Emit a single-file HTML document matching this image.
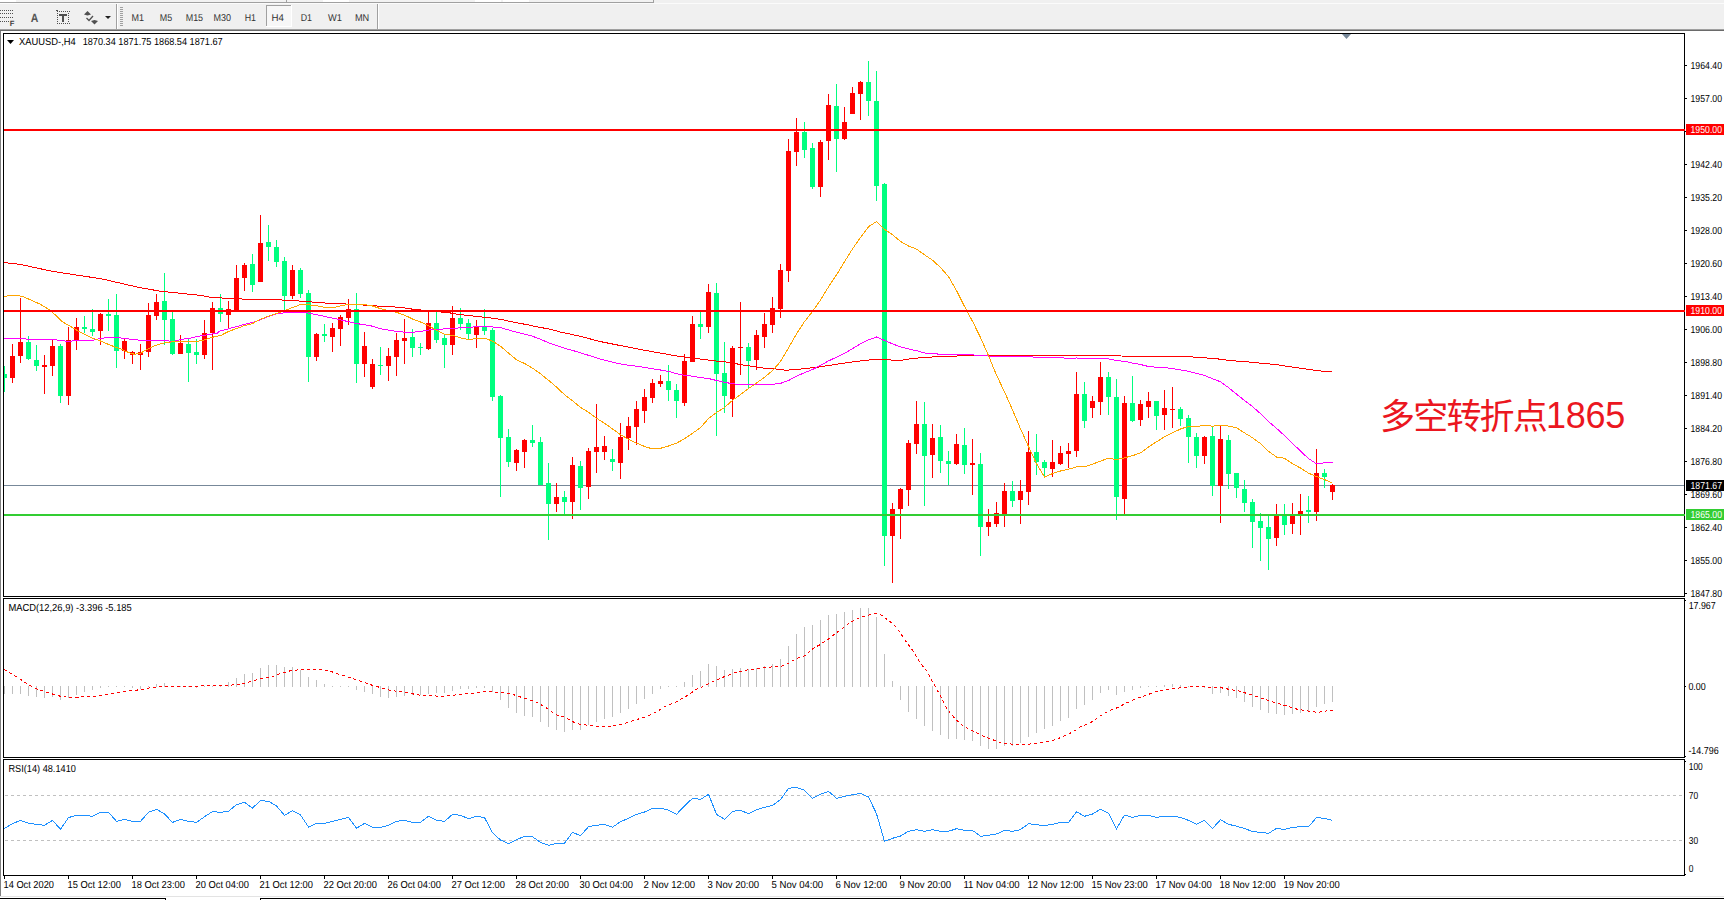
<!DOCTYPE html>
<html><head><meta charset="utf-8"><title>XAUUSD-,H4</title>
<style>
html,body{margin:0;padding:0;background:#fff;}
body{width:1724px;height:900px;overflow:hidden;position:relative;font-family:"Liberation Sans",sans-serif;}
svg{position:absolute;left:0;top:0;}
text{text-rendering:geometricPrecision;}
.t{font-family:"Liberation Sans",sans-serif;font-size:10.2px;fill:#000;}
.tb{font-family:"Liberation Sans",sans-serif;font-size:10px;fill:#333;}
.cn{position:absolute;left:1380px;top:398.7px;font-family:"Liberation Sans","Noto Sans CJK SC",sans-serif;font-size:35px;letter-spacing:-1.8px;color:#eb1620;white-space:nowrap;line-height:1;}
.cn .d{font-size:36px;letter-spacing:-0.3px;position:relative;top:-1.2px;}
</style></head><body>

<svg width="1724" height="900" viewBox="0 0 1724 900">
<g shape-rendering="crispEdges">
<rect x="0" y="0" width="1724" height="29" fill="#f0f0f0"/>
<rect x="0" y="0" width="653" height="2" fill="#f2f2f2"/>
<rect x="0" y="0" width="16" height="2" fill="#ffffff"/>
<rect x="323" y="0" width="26" height="2" fill="#ffffff"/>
<rect x="475" y="0" width="26" height="2" fill="#ffffff"/>
<rect x="503" y="0" width="26" height="2" fill="#ffffff"/>
<rect x="0" y="2" width="654" height="1" fill="#a0a0a0"/>
<rect x="286" y="0" width="1" height="2" fill="#a0a0a0"/>
<rect x="653" y="0" width="1" height="3" fill="#a0a0a0"/>
<rect x="0" y="3" width="1724" height="1" fill="#fbfbfb"/>
<rect x="116" y="4" width="1" height="25" fill="#a0a0a0"/><rect x="117" y="4" width="1" height="25" fill="#ffffff"/>
<rect x="377" y="4" width="1" height="25" fill="#a0a0a0"/><rect x="378" y="4" width="1" height="25" fill="#ffffff"/>
<rect x="120" y="7" width="3" height="1" fill="#a0a0a0"/>
<rect x="120" y="9" width="3" height="1" fill="#a0a0a0"/>
<rect x="120" y="11" width="3" height="1" fill="#a0a0a0"/>
<rect x="120" y="13" width="3" height="1" fill="#a0a0a0"/>
<rect x="120" y="15" width="3" height="1" fill="#a0a0a0"/>
<rect x="120" y="17" width="3" height="1" fill="#a0a0a0"/>
<rect x="120" y="19" width="3" height="1" fill="#a0a0a0"/>
<rect x="120" y="21" width="3" height="1" fill="#a0a0a0"/>
<rect x="120" y="23" width="3" height="1" fill="#a0a0a0"/>
<rect x="120" y="25" width="3" height="1" fill="#a0a0a0"/>
<rect x="266" y="5" width="25" height="22" fill="#f7f7f7"/>
<rect x="266" y="5" width="25" height="1" fill="#a0a0a0"/><rect x="266" y="5" width="1" height="22" fill="#a0a0a0"/>
<rect x="266" y="26" width="26" height="1" fill="#ffffff"/><rect x="291" y="5" width="1" height="22" fill="#ffffff"/>
<rect x="0" y="29" width="1724" height="1" fill="#a0a0a0"/>
<rect x="0" y="30" width="1724" height="1" fill="#6a6a6a"/>
</g>
<g shape-rendering="crispEdges"><rect x="0" y="10" width="1" height="1" fill="#505050"/><rect x="2" y="10" width="1" height="1" fill="#505050"/><rect x="4" y="10" width="1" height="1" fill="#505050"/><rect x="6" y="10" width="1" height="1" fill="#505050"/><rect x="8" y="10" width="1" height="1" fill="#505050"/><rect x="10" y="10" width="1" height="1" fill="#505050"/><rect x="12" y="10" width="1" height="1" fill="#505050"/><rect x="0" y="13" width="1" height="1" fill="#505050"/><rect x="2" y="13" width="1" height="1" fill="#505050"/><rect x="4" y="13" width="1" height="1" fill="#505050"/><rect x="6" y="13" width="1" height="1" fill="#505050"/><rect x="8" y="13" width="1" height="1" fill="#505050"/><rect x="10" y="13" width="1" height="1" fill="#505050"/><rect x="12" y="13" width="1" height="1" fill="#505050"/><rect x="0" y="17" width="1" height="1" fill="#505050"/><rect x="2" y="17" width="1" height="1" fill="#505050"/><rect x="4" y="17" width="1" height="1" fill="#505050"/><rect x="6" y="17" width="1" height="1" fill="#505050"/><rect x="8" y="17" width="1" height="1" fill="#505050"/><rect x="10" y="17" width="1" height="1" fill="#505050"/><rect x="12" y="17" width="1" height="1" fill="#505050"/><rect x="0" y="21" width="1" height="1" fill="#505050"/><rect x="2" y="21" width="1" height="1" fill="#505050"/><rect x="4" y="21" width="1" height="1" fill="#505050"/><rect x="6" y="21" width="1" height="1" fill="#505050"/><rect x="8" y="21" width="1" height="1" fill="#505050"/></g>
<text x="9.8" y="26.2" font-family="Liberation Sans, sans-serif" font-size="7.6px" font-weight="bold" fill="#404040">F</text>
<text x="30.8" y="22" font-family="Liberation Sans, sans-serif" font-size="12px" font-weight="bold" fill="#555" textLength="7.6" lengthAdjust="spacingAndGlyphs">A</text>
<g shape-rendering="crispEdges"><rect x="57" y="11" width="1" height="1" fill="#505050"/><rect x="57" y="23" width="1" height="1" fill="#505050"/><rect x="59" y="11" width="1" height="1" fill="#505050"/><rect x="59" y="23" width="1" height="1" fill="#505050"/><rect x="61" y="11" width="1" height="1" fill="#505050"/><rect x="61" y="23" width="1" height="1" fill="#505050"/><rect x="63" y="11" width="1" height="1" fill="#505050"/><rect x="63" y="23" width="1" height="1" fill="#505050"/><rect x="65" y="11" width="1" height="1" fill="#505050"/><rect x="65" y="23" width="1" height="1" fill="#505050"/><rect x="67" y="11" width="1" height="1" fill="#505050"/><rect x="67" y="23" width="1" height="1" fill="#505050"/><rect x="69" y="11" width="1" height="1" fill="#505050"/><rect x="69" y="23" width="1" height="1" fill="#505050"/><rect x="57" y="13" width="1" height="1" fill="#505050"/><rect x="68" y="13" width="1" height="1" fill="#505050"/><rect x="57" y="15" width="1" height="1" fill="#505050"/><rect x="68" y="15" width="1" height="1" fill="#505050"/><rect x="57" y="17" width="1" height="1" fill="#505050"/><rect x="68" y="17" width="1" height="1" fill="#505050"/><rect x="57" y="19" width="1" height="1" fill="#505050"/><rect x="68" y="19" width="1" height="1" fill="#505050"/><rect x="57" y="21" width="1" height="1" fill="#505050"/><rect x="68" y="21" width="1" height="1" fill="#505050"/><rect x="56" y="10" width="2" height="1" fill="#505050"/><rect x="59" y="14" width="8" height="2" fill="#505050"/><rect x="62" y="14" width="2" height="8" fill="#505050"/></g>
<path d="M84 14.5 L87.5 11 L91 14.5 L87.5 15.5 Z" fill="#505050"/>
<path d="M91 21 L94.5 24.5 L98 21 L94.5 20 Z" fill="#505050"/>
<path d="M86.5 18 L89 20.5 L93 16" fill="none" stroke="#505050" stroke-width="1.3"/>
<path d="M105 16 L111 16 L108 19 Z" fill="#202020"/>
<text class="tb" x="131.5" y="21" textLength="12.5" lengthAdjust="spacingAndGlyphs">M1</text>
<text class="tb" x="159.8" y="21" textLength="12.4" lengthAdjust="spacingAndGlyphs">M5</text>
<text class="tb" x="185.7" y="21" textLength="17.4" lengthAdjust="spacingAndGlyphs">M15</text>
<text class="tb" x="213.6" y="21" textLength="17.5" lengthAdjust="spacingAndGlyphs">M30</text>
<text class="tb" x="244.7" y="21" textLength="11.3" lengthAdjust="spacingAndGlyphs">H1</text>
<text class="tb" x="271.5" y="21" textLength="12.4" lengthAdjust="spacingAndGlyphs">H4</text>
<text class="tb" x="300.7" y="21" textLength="11.3" lengthAdjust="spacingAndGlyphs">D1</text>
<text class="tb" x="328.1" y="21" textLength="13.9" lengthAdjust="spacingAndGlyphs">W1</text>
<text class="tb" x="354.9" y="21" textLength="14.3" lengthAdjust="spacingAndGlyphs">MN</text>
<g shape-rendering="crispEdges">
<rect x="0" y="31" width="1" height="865" fill="#808080"/>
<rect x="3" y="33" width="1682" height="1" fill="#000"/>
<rect x="3" y="596" width="1682" height="1" fill="#000"/>
<rect x="3" y="33" width="1" height="564" fill="#000"/>
<rect x="1684" y="33" width="1" height="564" fill="#000"/>
<rect x="3" y="598" width="1682" height="1" fill="#000"/>
<rect x="3" y="757" width="1682" height="1" fill="#000"/>
<rect x="3" y="598" width="1" height="160" fill="#000"/>
<rect x="1684" y="598" width="1" height="160" fill="#000"/>
<rect x="3" y="759" width="1682" height="1" fill="#000"/>
<rect x="3" y="875" width="1682" height="1" fill="#000"/>
<rect x="3" y="759" width="1" height="117" fill="#000"/>
<rect x="1684" y="759" width="1" height="117" fill="#000"/>
<rect x="0" y="896" width="1724" height="1" fill="#e3e3e3"/>
<rect x="0" y="898" width="166" height="1" fill="#000"/>
<rect x="260" y="898" width="1464" height="1" fill="#000"/>
<rect x="165" y="898" width="1" height="2" fill="#000"/><rect x="260" y="898" width="1" height="2" fill="#000"/>
</g>
<rect x="4" y="485" width="1680" height="1" fill="#778899" shape-rendering="crispEdges"/>
<g shape-rendering="crispEdges"><rect x="4" y="366" width="1" height="26" fill="#00ff7f"/><rect x="4" y="374" width="3" height="4" fill="#00ff7f"/><rect x="12" y="344" width="1" height="39" fill="#ff0000"/><rect x="10" y="356" width="5" height="22" fill="#ff0000"/><rect x="20" y="298" width="1" height="65" fill="#ff0000"/><rect x="18" y="342" width="5" height="14" fill="#ff0000"/><rect x="28" y="336" width="1" height="24" fill="#00ff7f"/><rect x="26" y="342" width="5" height="17" fill="#00ff7f"/><rect x="36" y="345" width="1" height="26" fill="#00ff7f"/><rect x="34" y="360" width="5" height="6" fill="#00ff7f"/><rect x="44" y="355" width="1" height="39" fill="#ff0000"/><rect x="42" y="365" width="5" height="2" fill="#ff0000"/><rect x="52" y="340" width="1" height="36" fill="#ff0000"/><rect x="50" y="346" width="5" height="20" fill="#ff0000"/><rect x="60" y="344" width="1" height="59" fill="#00ff7f"/><rect x="58" y="346" width="5" height="50" fill="#00ff7f"/><rect x="68" y="327" width="1" height="78" fill="#ff0000"/><rect x="66" y="340" width="5" height="56" fill="#ff0000"/><rect x="76" y="318" width="1" height="32" fill="#ff0000"/><rect x="74" y="327" width="5" height="13" fill="#ff0000"/><rect x="84" y="316" width="1" height="17" fill="#00ff7f"/><rect x="82" y="327" width="5" height="2" fill="#00ff7f"/><rect x="92" y="309" width="1" height="27" fill="#00ff7f"/><rect x="90" y="329" width="5" height="3" fill="#00ff7f"/><rect x="100" y="313" width="1" height="32" fill="#ff0000"/><rect x="98" y="314" width="5" height="17" fill="#ff0000"/><rect x="108" y="299" width="1" height="32" fill="#00ff7f"/><rect x="106" y="314" width="5" height="2" fill="#00ff7f"/><rect x="116" y="294" width="1" height="74" fill="#00ff7f"/><rect x="114" y="315" width="5" height="36" fill="#00ff7f"/><rect x="124" y="338" width="1" height="21" fill="#ff0000"/><rect x="122" y="341" width="5" height="10" fill="#ff0000"/><rect x="132" y="351" width="1" height="13" fill="#ff0000"/><rect x="130" y="352" width="5" height="3" fill="#ff0000"/><rect x="140" y="344" width="1" height="26" fill="#ff0000"/><rect x="138" y="352" width="5" height="3" fill="#ff0000"/><rect x="148" y="303" width="1" height="54" fill="#ff0000"/><rect x="146" y="315" width="5" height="37" fill="#ff0000"/><rect x="156" y="294" width="1" height="26" fill="#ff0000"/><rect x="154" y="302" width="5" height="14" fill="#ff0000"/><rect x="164" y="273" width="1" height="72" fill="#00ff7f"/><rect x="162" y="301" width="5" height="19" fill="#00ff7f"/><rect x="172" y="312" width="1" height="43" fill="#00ff7f"/><rect x="170" y="319" width="5" height="35" fill="#00ff7f"/><rect x="180" y="335" width="1" height="19" fill="#ff0000"/><rect x="178" y="343" width="5" height="11" fill="#ff0000"/><rect x="188" y="339" width="1" height="43" fill="#00ff7f"/><rect x="186" y="344" width="5" height="9" fill="#00ff7f"/><rect x="196" y="339" width="1" height="25" fill="#00ff7f"/><rect x="194" y="352" width="5" height="3" fill="#00ff7f"/><rect x="204" y="320" width="1" height="39" fill="#ff0000"/><rect x="202" y="333" width="5" height="22" fill="#ff0000"/><rect x="212" y="302" width="1" height="68" fill="#ff0000"/><rect x="210" y="308" width="5" height="25" fill="#ff0000"/><rect x="220" y="294" width="1" height="28" fill="#00ff7f"/><rect x="218" y="308" width="5" height="6" fill="#00ff7f"/><rect x="228" y="301" width="1" height="27" fill="#ff0000"/><rect x="226" y="309" width="5" height="6" fill="#ff0000"/><rect x="236" y="265" width="1" height="47" fill="#ff0000"/><rect x="234" y="278" width="5" height="34" fill="#ff0000"/><rect x="244" y="263" width="1" height="28" fill="#ff0000"/><rect x="242" y="265" width="5" height="13" fill="#ff0000"/><rect x="252" y="254" width="1" height="38" fill="#00ff7f"/><rect x="250" y="264" width="5" height="21" fill="#00ff7f"/><rect x="260" y="215" width="1" height="67" fill="#ff0000"/><rect x="258" y="243" width="5" height="39" fill="#ff0000"/><rect x="268" y="225" width="1" height="36" fill="#00ff7f"/><rect x="266" y="242" width="5" height="5" fill="#00ff7f"/><rect x="276" y="240" width="1" height="27" fill="#00ff7f"/><rect x="274" y="247" width="5" height="15" fill="#00ff7f"/><rect x="284" y="257" width="1" height="53" fill="#00ff7f"/><rect x="282" y="261" width="5" height="35" fill="#00ff7f"/><rect x="292" y="265" width="1" height="34" fill="#ff0000"/><rect x="290" y="270" width="5" height="26" fill="#ff0000"/><rect x="300" y="268" width="1" height="30" fill="#00ff7f"/><rect x="298" y="270" width="5" height="24" fill="#00ff7f"/><rect x="308" y="290" width="1" height="92" fill="#00ff7f"/><rect x="306" y="293" width="5" height="64" fill="#00ff7f"/><rect x="316" y="333" width="1" height="28" fill="#ff0000"/><rect x="314" y="334" width="5" height="23" fill="#ff0000"/><rect x="324" y="324" width="1" height="18" fill="#00ff7f"/><rect x="322" y="334" width="5" height="2" fill="#00ff7f"/><rect x="332" y="323" width="1" height="29" fill="#ff0000"/><rect x="330" y="328" width="5" height="9" fill="#ff0000"/><rect x="340" y="315" width="1" height="31" fill="#ff0000"/><rect x="338" y="317" width="5" height="12" fill="#ff0000"/><rect x="348" y="299" width="1" height="26" fill="#ff0000"/><rect x="346" y="309" width="5" height="9" fill="#ff0000"/><rect x="356" y="293" width="1" height="90" fill="#00ff7f"/><rect x="354" y="309" width="5" height="55" fill="#00ff7f"/><rect x="364" y="332" width="1" height="45" fill="#ff0000"/><rect x="362" y="346" width="5" height="18" fill="#ff0000"/><rect x="372" y="359" width="1" height="30" fill="#ff0000"/><rect x="370" y="364" width="5" height="23" fill="#ff0000"/><rect x="380" y="347" width="1" height="28" fill="#00ff7f"/><rect x="378" y="365" width="5" height="1" fill="#00ff7f"/><rect x="388" y="348" width="1" height="33" fill="#ff0000"/><rect x="386" y="356" width="5" height="10" fill="#ff0000"/><rect x="396" y="333" width="1" height="43" fill="#ff0000"/><rect x="394" y="340" width="5" height="17" fill="#ff0000"/><rect x="404" y="319" width="1" height="45" fill="#ff0000"/><rect x="402" y="338" width="5" height="3" fill="#ff0000"/><rect x="412" y="329" width="1" height="28" fill="#00ff7f"/><rect x="410" y="337" width="5" height="11" fill="#00ff7f"/><rect x="420" y="343" width="1" height="12" fill="#00ff7f"/><rect x="418" y="347" width="5" height="1" fill="#00ff7f"/><rect x="428" y="312" width="1" height="38" fill="#ff0000"/><rect x="426" y="323" width="5" height="26" fill="#ff0000"/><rect x="436" y="312" width="1" height="31" fill="#00ff7f"/><rect x="434" y="323" width="5" height="17" fill="#00ff7f"/><rect x="444" y="335" width="1" height="33" fill="#00ff7f"/><rect x="442" y="338" width="5" height="7" fill="#00ff7f"/><rect x="452" y="306" width="1" height="49" fill="#ff0000"/><rect x="450" y="318" width="5" height="27" fill="#ff0000"/><rect x="460" y="308" width="1" height="22" fill="#00ff7f"/><rect x="458" y="318" width="5" height="6" fill="#00ff7f"/><rect x="468" y="319" width="1" height="21" fill="#00ff7f"/><rect x="466" y="323" width="5" height="11" fill="#00ff7f"/><rect x="476" y="320" width="1" height="28" fill="#ff0000"/><rect x="474" y="327" width="5" height="8" fill="#ff0000"/><rect x="484" y="309" width="1" height="26" fill="#00ff7f"/><rect x="482" y="327" width="5" height="4" fill="#00ff7f"/><rect x="492" y="328" width="1" height="73" fill="#00ff7f"/><rect x="490" y="330" width="5" height="67" fill="#00ff7f"/><rect x="500" y="395" width="1" height="102" fill="#00ff7f"/><rect x="498" y="396" width="5" height="42" fill="#00ff7f"/><rect x="508" y="429" width="1" height="38" fill="#00ff7f"/><rect x="506" y="437" width="5" height="25" fill="#00ff7f"/><rect x="516" y="449" width="1" height="22" fill="#ff0000"/><rect x="514" y="450" width="5" height="13" fill="#ff0000"/><rect x="524" y="439" width="1" height="29" fill="#ff0000"/><rect x="522" y="440" width="5" height="12" fill="#ff0000"/><rect x="532" y="425" width="1" height="22" fill="#00ff7f"/><rect x="530" y="440" width="5" height="3" fill="#00ff7f"/><rect x="540" y="437" width="1" height="48" fill="#00ff7f"/><rect x="538" y="442" width="5" height="43" fill="#00ff7f"/><rect x="548" y="463" width="1" height="77" fill="#00ff7f"/><rect x="546" y="483" width="5" height="21" fill="#00ff7f"/><rect x="556" y="483" width="1" height="29" fill="#ff0000"/><rect x="554" y="497" width="5" height="7" fill="#ff0000"/><rect x="564" y="491" width="1" height="23" fill="#00ff7f"/><rect x="562" y="497" width="5" height="5" fill="#00ff7f"/><rect x="572" y="457" width="1" height="62" fill="#ff0000"/><rect x="570" y="465" width="5" height="37" fill="#ff0000"/><rect x="580" y="461" width="1" height="49" fill="#00ff7f"/><rect x="578" y="466" width="5" height="22" fill="#00ff7f"/><rect x="588" y="448" width="1" height="51" fill="#ff0000"/><rect x="586" y="451" width="5" height="36" fill="#ff0000"/><rect x="596" y="404" width="1" height="69" fill="#ff0000"/><rect x="594" y="447" width="5" height="5" fill="#ff0000"/><rect x="604" y="436" width="1" height="24" fill="#ff0000"/><rect x="602" y="446" width="5" height="6" fill="#ff0000"/><rect x="612" y="449" width="1" height="22" fill="#00ff7f"/><rect x="610" y="459" width="5" height="3" fill="#00ff7f"/><rect x="620" y="423" width="1" height="56" fill="#ff0000"/><rect x="618" y="437" width="5" height="26" fill="#ff0000"/><rect x="628" y="417" width="1" height="33" fill="#ff0000"/><rect x="626" y="426" width="5" height="12" fill="#ff0000"/><rect x="636" y="401" width="1" height="44" fill="#ff0000"/><rect x="634" y="409" width="5" height="18" fill="#ff0000"/><rect x="644" y="389" width="1" height="34" fill="#ff0000"/><rect x="642" y="397" width="5" height="14" fill="#ff0000"/><rect x="652" y="379" width="1" height="24" fill="#ff0000"/><rect x="650" y="383" width="5" height="15" fill="#ff0000"/><rect x="660" y="375" width="1" height="12" fill="#ff0000"/><rect x="658" y="381" width="5" height="3" fill="#ff0000"/><rect x="668" y="365" width="1" height="36" fill="#00ff7f"/><rect x="666" y="381" width="5" height="9" fill="#00ff7f"/><rect x="676" y="384" width="1" height="34" fill="#00ff7f"/><rect x="674" y="390" width="5" height="11" fill="#00ff7f"/><rect x="684" y="354" width="1" height="52" fill="#ff0000"/><rect x="682" y="361" width="5" height="42" fill="#ff0000"/><rect x="692" y="316" width="1" height="46" fill="#ff0000"/><rect x="690" y="324" width="5" height="38" fill="#ff0000"/><rect x="700" y="312" width="1" height="27" fill="#00ff7f"/><rect x="698" y="324" width="5" height="3" fill="#00ff7f"/><rect x="708" y="284" width="1" height="49" fill="#ff0000"/><rect x="706" y="292" width="5" height="35" fill="#ff0000"/><rect x="716" y="283" width="1" height="153" fill="#00ff7f"/><rect x="714" y="293" width="5" height="81" fill="#00ff7f"/><rect x="724" y="342" width="1" height="71" fill="#00ff7f"/><rect x="722" y="373" width="5" height="23" fill="#00ff7f"/><rect x="732" y="346" width="1" height="71" fill="#ff0000"/><rect x="730" y="348" width="5" height="51" fill="#ff0000"/><rect x="740" y="302" width="1" height="73" fill="#ff0000"/><rect x="738" y="347" width="5" height="1" fill="#ff0000"/><rect x="748" y="343" width="1" height="45" fill="#00ff7f"/><rect x="746" y="347" width="5" height="14" fill="#00ff7f"/><rect x="756" y="330" width="1" height="40" fill="#ff0000"/><rect x="754" y="335" width="5" height="25" fill="#ff0000"/><rect x="764" y="313" width="1" height="35" fill="#ff0000"/><rect x="762" y="324" width="5" height="13" fill="#ff0000"/><rect x="772" y="297" width="1" height="36" fill="#ff0000"/><rect x="770" y="308" width="5" height="17" fill="#ff0000"/><rect x="780" y="264" width="1" height="54" fill="#ff0000"/><rect x="778" y="270" width="5" height="39" fill="#ff0000"/><rect x="788" y="139" width="1" height="143" fill="#ff0000"/><rect x="786" y="151" width="5" height="120" fill="#ff0000"/><rect x="796" y="118" width="1" height="48" fill="#ff0000"/><rect x="794" y="132" width="5" height="20" fill="#ff0000"/><rect x="804" y="122" width="1" height="36" fill="#00ff7f"/><rect x="802" y="132" width="5" height="18" fill="#00ff7f"/><rect x="812" y="143" width="1" height="46" fill="#00ff7f"/><rect x="810" y="148" width="5" height="39" fill="#00ff7f"/><rect x="820" y="140" width="1" height="57" fill="#ff0000"/><rect x="818" y="142" width="5" height="45" fill="#ff0000"/><rect x="828" y="94" width="1" height="66" fill="#ff0000"/><rect x="826" y="105" width="5" height="36" fill="#ff0000"/><rect x="836" y="84" width="1" height="88" fill="#00ff7f"/><rect x="834" y="106" width="5" height="33" fill="#00ff7f"/><rect x="844" y="107" width="1" height="33" fill="#ff0000"/><rect x="842" y="122" width="5" height="17" fill="#ff0000"/><rect x="852" y="87" width="1" height="27" fill="#ff0000"/><rect x="850" y="93" width="5" height="21" fill="#ff0000"/><rect x="860" y="81" width="1" height="39" fill="#ff0000"/><rect x="858" y="82" width="5" height="12" fill="#ff0000"/><rect x="868" y="61" width="1" height="55" fill="#00ff7f"/><rect x="866" y="82" width="5" height="19" fill="#00ff7f"/><rect x="876" y="71" width="1" height="130" fill="#00ff7f"/><rect x="874" y="101" width="5" height="85" fill="#00ff7f"/><rect x="884" y="183" width="1" height="383" fill="#00ff7f"/><rect x="882" y="184" width="5" height="352" fill="#00ff7f"/><rect x="892" y="503" width="1" height="80" fill="#ff0000"/><rect x="890" y="509" width="5" height="27" fill="#ff0000"/><rect x="900" y="488" width="1" height="51" fill="#ff0000"/><rect x="898" y="489" width="5" height="20" fill="#ff0000"/><rect x="908" y="440" width="1" height="66" fill="#ff0000"/><rect x="906" y="443" width="5" height="47" fill="#ff0000"/><rect x="916" y="401" width="1" height="53" fill="#ff0000"/><rect x="914" y="424" width="5" height="20" fill="#ff0000"/><rect x="924" y="402" width="1" height="104" fill="#00ff7f"/><rect x="922" y="424" width="5" height="32" fill="#00ff7f"/><rect x="932" y="424" width="1" height="54" fill="#ff0000"/><rect x="930" y="438" width="5" height="17" fill="#ff0000"/><rect x="940" y="425" width="1" height="48" fill="#00ff7f"/><rect x="938" y="437" width="5" height="24" fill="#00ff7f"/><rect x="948" y="451" width="1" height="34" fill="#00ff7f"/><rect x="946" y="461" width="5" height="3" fill="#00ff7f"/><rect x="956" y="434" width="1" height="31" fill="#ff0000"/><rect x="954" y="444" width="5" height="20" fill="#ff0000"/><rect x="964" y="428" width="1" height="46" fill="#00ff7f"/><rect x="962" y="445" width="5" height="20" fill="#00ff7f"/><rect x="972" y="439" width="1" height="56" fill="#ff0000"/><rect x="970" y="463" width="5" height="2" fill="#ff0000"/><rect x="980" y="453" width="1" height="103" fill="#00ff7f"/><rect x="978" y="464" width="5" height="63" fill="#00ff7f"/><rect x="988" y="509" width="1" height="27" fill="#ff0000"/><rect x="986" y="522" width="5" height="5" fill="#ff0000"/><rect x="996" y="502" width="1" height="25" fill="#ff0000"/><rect x="994" y="513" width="5" height="11" fill="#ff0000"/><rect x="1004" y="483" width="1" height="44" fill="#ff0000"/><rect x="1002" y="491" width="5" height="23" fill="#ff0000"/><rect x="1012" y="481" width="1" height="26" fill="#00ff7f"/><rect x="1010" y="491" width="5" height="10" fill="#00ff7f"/><rect x="1020" y="480" width="1" height="44" fill="#ff0000"/><rect x="1018" y="491" width="5" height="9" fill="#ff0000"/><rect x="1028" y="431" width="1" height="74" fill="#ff0000"/><rect x="1026" y="452" width="5" height="40" fill="#ff0000"/><rect x="1036" y="434" width="1" height="41" fill="#00ff7f"/><rect x="1034" y="452" width="5" height="10" fill="#00ff7f"/><rect x="1044" y="460" width="1" height="17" fill="#00ff7f"/><rect x="1042" y="462" width="5" height="6" fill="#00ff7f"/><rect x="1052" y="440" width="1" height="37" fill="#ff0000"/><rect x="1050" y="462" width="5" height="7" fill="#ff0000"/><rect x="1060" y="446" width="1" height="19" fill="#ff0000"/><rect x="1058" y="453" width="5" height="11" fill="#ff0000"/><rect x="1068" y="443" width="1" height="25" fill="#ff0000"/><rect x="1066" y="451" width="5" height="3" fill="#ff0000"/><rect x="1076" y="372" width="1" height="85" fill="#ff0000"/><rect x="1074" y="394" width="5" height="57" fill="#ff0000"/><rect x="1084" y="382" width="1" height="46" fill="#00ff7f"/><rect x="1082" y="394" width="5" height="27" fill="#00ff7f"/><rect x="1092" y="396" width="1" height="22" fill="#ff0000"/><rect x="1090" y="401" width="5" height="7" fill="#ff0000"/><rect x="1100" y="362" width="1" height="53" fill="#ff0000"/><rect x="1098" y="377" width="5" height="25" fill="#ff0000"/><rect x="1108" y="372" width="1" height="43" fill="#00ff7f"/><rect x="1106" y="377" width="5" height="20" fill="#00ff7f"/><rect x="1116" y="379" width="1" height="141" fill="#00ff7f"/><rect x="1114" y="397" width="5" height="100" fill="#00ff7f"/><rect x="1124" y="396" width="1" height="118" fill="#ff0000"/><rect x="1122" y="403" width="5" height="96" fill="#ff0000"/><rect x="1132" y="376" width="1" height="46" fill="#00ff7f"/><rect x="1130" y="403" width="5" height="18" fill="#00ff7f"/><rect x="1140" y="400" width="1" height="26" fill="#ff0000"/><rect x="1138" y="404" width="5" height="16" fill="#ff0000"/><rect x="1148" y="392" width="1" height="26" fill="#ff0000"/><rect x="1146" y="401" width="5" height="6" fill="#ff0000"/><rect x="1156" y="401" width="1" height="29" fill="#00ff7f"/><rect x="1154" y="401" width="5" height="15" fill="#00ff7f"/><rect x="1164" y="390" width="1" height="40" fill="#ff0000"/><rect x="1162" y="408" width="5" height="7" fill="#ff0000"/><rect x="1172" y="387" width="1" height="41" fill="#ff0000"/><rect x="1170" y="409" width="5" height="1" fill="#ff0000"/><rect x="1180" y="407" width="1" height="19" fill="#00ff7f"/><rect x="1178" y="409" width="5" height="10" fill="#00ff7f"/><rect x="1188" y="415" width="1" height="48" fill="#00ff7f"/><rect x="1186" y="418" width="5" height="19" fill="#00ff7f"/><rect x="1196" y="433" width="1" height="35" fill="#00ff7f"/><rect x="1194" y="437" width="5" height="19" fill="#00ff7f"/><rect x="1204" y="436" width="1" height="28" fill="#ff0000"/><rect x="1202" y="437" width="5" height="19" fill="#ff0000"/><rect x="1212" y="427" width="1" height="69" fill="#00ff7f"/><rect x="1210" y="436" width="5" height="50" fill="#00ff7f"/><rect x="1220" y="426" width="1" height="97" fill="#ff0000"/><rect x="1218" y="439" width="5" height="47" fill="#ff0000"/><rect x="1228" y="435" width="1" height="54" fill="#00ff7f"/><rect x="1226" y="440" width="5" height="34" fill="#00ff7f"/><rect x="1236" y="473" width="1" height="25" fill="#00ff7f"/><rect x="1234" y="473" width="5" height="15" fill="#00ff7f"/><rect x="1244" y="480" width="1" height="32" fill="#00ff7f"/><rect x="1242" y="489" width="5" height="14" fill="#00ff7f"/><rect x="1252" y="499" width="1" height="49" fill="#00ff7f"/><rect x="1250" y="502" width="5" height="20" fill="#00ff7f"/><rect x="1260" y="513" width="1" height="48" fill="#00ff7f"/><rect x="1258" y="521" width="5" height="7" fill="#00ff7f"/><rect x="1268" y="516" width="1" height="54" fill="#00ff7f"/><rect x="1266" y="527" width="5" height="12" fill="#00ff7f"/><rect x="1276" y="504" width="1" height="42" fill="#ff0000"/><rect x="1274" y="516" width="5" height="22" fill="#ff0000"/><rect x="1284" y="504" width="1" height="31" fill="#00ff7f"/><rect x="1282" y="516" width="5" height="9" fill="#00ff7f"/><rect x="1292" y="503" width="1" height="31" fill="#ff0000"/><rect x="1290" y="516" width="5" height="8" fill="#ff0000"/><rect x="1300" y="494" width="1" height="41" fill="#ff0000"/><rect x="1298" y="511" width="5" height="3" fill="#ff0000"/><rect x="1308" y="496" width="1" height="27" fill="#00ff7f"/><rect x="1306" y="510" width="5" height="2" fill="#00ff7f"/><rect x="1316" y="449" width="1" height="72" fill="#ff0000"/><rect x="1314" y="473" width="5" height="39" fill="#ff0000"/><rect x="1324" y="469" width="1" height="19" fill="#00ff7f"/><rect x="1322" y="473" width="5" height="4" fill="#00ff7f"/><rect x="1332" y="484" width="1" height="16" fill="#ff0000"/><rect x="1330" y="485" width="5" height="7" fill="#ff0000"/></g>
<g shape-rendering="crispEdges">
<polyline points="4.0,262.6 20.5,264.4 50.5,271.0 80.5,275.7 100.5,278.6 120.5,283.2 140.5,287.8 160.5,291.2 180.5,293.3 200.5,295.4 210.5,297.3 225.5,298.2 250.5,299.4 280.5,299.9 300.5,301.1 315.5,302.3 330.5,303.4 345.5,304.0 360.5,304.8 380.5,306.3 400.5,307.3 410.5,308.9 430.5,311.0 450.5,313.0 460.5,314.7 470.5,315.7 480.5,316.8 490.5,318.0 500.5,319.3 510.5,321.5 520.5,323.4 530.5,325.4 540.5,327.5 550.5,329.2 560.5,332.1 570.5,334.1 580.5,336.4 600.5,341.6 620.5,345.6 640.5,349.5 660.5,353.1 680.5,356.7 690.5,357.7 700.5,359.1 720.5,361.5 730.5,362.4 740.5,364.7 755.5,366.7 760.5,367.8 775.5,369.0 785.5,370.2 790.5,369.9 800.5,369.1 820.5,366.8 840.5,363.6 860.5,360.9 875.5,359.4 890.5,360.0 900.5,360.4 910.5,358.7 925.5,357.3 940.5,356.6 960.5,355.9 980.5,355.4 1025.5,355.6 1035.5,355.2 1112.5,355.2 1120.5,356.0 1160.5,356.3 1185.5,356.5 1200.5,357.5 1215.5,358.6 1230.5,360.6 1245.5,361.7 1260.5,363.2 1275.5,364.5 1290.5,366.8 1305.5,369.0 1320.5,371.0 1332.5,371.5" fill="none" stroke="#ff0000" stroke-width="1" />
<polyline points="4.0,338.5 25.5,338.5 26.5,339.5 56.5,339.5 57.5,340.5 64.5,340.5 65.5,341.5 71.5,341.5 72.5,340.5 93.5,340.5 94.5,339.5 97.5,339.5 98.5,338.5 103.5,338.5 104.5,337.5 120.5,337.5 121.5,338.5 128.5,338.5 129.5,339.5 137.5,339.5 138.5,340.5 168.5,340.5 169.5,341.5 174.5,341.5 175.5,340.5 178.5,340.5 179.5,339.5 183.5,339.5 184.5,338.5 190.5,338.5 191.5,337.5 194.5,337.5 195.5,336.5 199.5,336.5 200.5,335.5 205.5,335.5 206.5,334.5 211.5,334.5 212.5,333.5 217.5,333.5 218.5,331.5 240.5,325.5 254.5,322.0 267.5,316.8 276.5,313.7 288.5,312.4 304.5,312.4 313.5,314.1 325.5,316.6 335.5,318.7 345.5,321.0 355.5,323.4 370.5,325.7 380.5,328.8 390.5,330.5 400.5,331.9 410.5,332.4 420.5,331.5 430.5,329.8 436.5,329.5 444.5,328.9 452.5,328.2 460.5,327.9 468.5,327.4 476.5,326.7 484.5,326.1 492.5,327.0 500.5,327.7 508.5,329.9 516.5,332.2 524.5,334.2 532.5,336.2 540.5,339.3 548.5,342.7 556.5,345.4 564.5,348.3 572.5,350.4 580.5,352.8 588.5,355.3 596.5,357.9 604.5,360.2 612.5,362.2 620.5,363.9 628.5,365.2 636.5,366.2 644.5,367.4 652.5,368.8 660.5,370.0 668.5,371.4 676.5,373.7 684.5,375.4 692.5,376.1 700.5,377.6 708.5,378.5 716.5,380.5 724.5,382.3 732.5,383.7 740.5,384.7 748.5,384.8 756.5,384.8 764.5,384.6 772.5,384.3 780.5,383.4 788.5,380.5 796.5,376.3 804.5,372.7 812.5,369.5 820.5,365.4 828.5,360.9 836.5,357.2 844.5,353.3 852.5,348.6 860.5,343.8 868.5,339.8 876.5,337.0 884.5,340.4 892.5,343.9 900.5,346.9 908.5,348.9 916.5,350.7 924.5,353.0 932.5,353.7 940.5,354.2 948.5,354.2 956.5,354.1 964.5,354.5 972.5,354.9 980.5,355.7 988.5,356.0 996.5,356.3 1004.5,356.1 1012.5,356.8 1020.5,356.8 1028.5,356.9 1036.5,357.1 1044.5,357.5 1052.5,357.5 1060.5,357.8 1068.5,358.3 1076.5,358.0 1084.5,358.4 1092.5,358.8 1100.5,358.7 1108.5,358.8 1116.5,360.6 1124.5,361.3 1132.5,363.1 1140.5,364.5 1148.5,366.5 1156.5,367.2 1164.5,367.5 1172.5,368.6 1180.5,369.9 1188.5,371.3 1196.5,373.4 1204.5,375.5 1212.5,378.7 1220.5,381.8 1228.5,387.6 1236.5,394.1 1244.5,400.5 1252.5,406.6 1260.5,413.6 1268.5,421.5 1276.5,428.3 1284.5,435.6 1292.5,443.3 1300.5,451.1 1308.5,458.6 1316.5,463.8 1324.5,462.8 1332.5,462.3" fill="none" stroke="#ff00ff" stroke-width="1" />
<polyline points="4.0,296.5 12.5,295.2 16.5,295.2 22.5,296.5 30.5,299.8 40.5,304.4 48.5,309.2 55.5,315.0 62.5,321.8 70.5,326.5 80.5,332.3 90.5,337.4 100.5,341.0 110.5,345.3 120.5,348.9 128.5,352.5 134.5,354.3 140.5,353.3 146.5,349.6 155.5,345.3 164.5,342.9 172.5,341.8 180.5,341.2 188.5,341.6 196.5,341.4 204.5,339.9 212.5,337.2 220.5,335.6 228.5,331.5 236.5,328.5 244.5,325.6 252.5,323.5 260.5,319.3 268.5,316.1 276.5,313.5 284.5,310.9 292.5,307.5 300.5,304.6 308.5,304.8 316.5,305.7 324.5,307.2 332.5,307.7 340.5,305.9 348.5,304.3 356.5,304.9 364.5,304.5 372.5,306.0 380.5,308.7 388.5,310.8 396.5,312.3 404.5,315.1 412.5,319.0 420.5,322.0 428.5,325.8 436.5,330.2 444.5,334.2 452.5,335.3 460.5,337.8 468.5,339.7 476.5,338.4 484.5,338.2 492.5,341.1 500.5,346.2 508.5,353.1 516.5,359.8 524.5,363.5 532.5,368.1 540.5,373.8 548.5,380.3 556.5,387.0 564.5,394.7 572.5,400.7 580.5,407.4 588.5,412.3 596.5,418.2 604.5,423.3 612.5,428.9 620.5,434.6 628.5,439.5 636.5,443.1 644.5,446.4 652.5,449.0 660.5,448.3 668.5,446.0 676.5,443.1 684.5,438.8 692.5,433.3 700.5,427.7 708.5,418.6 716.5,412.4 724.5,407.5 732.5,400.3 740.5,394.6 748.5,388.6 756.5,383.1 764.5,377.2 772.5,370.6 780.5,361.5 788.5,347.9 796.5,333.9 804.5,321.6 812.5,311.5 820.5,300.0 828.5,286.9 836.5,274.9 844.5,261.7 852.5,248.9 860.5,237.4 868.5,226.7 876.5,221.6 884.5,229.3 892.5,234.7 900.5,241.4 908.5,246.0 916.5,249.1 924.5,254.8 932.5,260.2 940.5,267.5 948.5,276.6 956.5,290.6 964.5,306.4 972.5,321.3 980.5,337.5 988.5,355.7 996.5,375.1 1004.5,391.9 1012.5,409.9 1020.5,428.8 1028.5,446.5 1036.5,463.7 1044.5,477.1 1052.5,473.6 1060.5,471.0 1068.5,469.2 1076.5,466.9 1084.5,466.7 1092.5,464.1 1100.5,461.2 1108.5,458.1 1116.5,459.7 1124.5,457.8 1132.5,455.7 1140.5,452.9 1148.5,446.9 1156.5,441.8 1164.5,436.8 1172.5,432.9 1180.5,429.0 1188.5,426.4 1196.5,426.5 1204.5,425.3 1212.5,426.2 1220.5,425.1 1228.5,426.1 1236.5,427.7 1244.5,432.9 1252.5,437.7 1260.5,443.6 1268.5,451.3 1276.5,457.0 1284.5,458.3 1292.5,463.7 1300.5,468.0 1308.5,473.1 1316.5,476.6 1324.5,479.5 1332.5,483.1" fill="none" stroke="#ffa500" stroke-width="1" />
</g>
<g shape-rendering="crispEdges">
<rect x="4" y="129" width="1681" height="2" fill="#ff0000"/>
<rect x="4" y="310" width="1681" height="2" fill="#ff0000"/>
<rect x="4" y="514" width="1681" height="2" fill="#32cd32"/>
</g>
<path d="M1342 34 L1351 34 L1346.5 39 Z" fill="#778899"/>
<g shape-rendering="crispEdges"><rect x="1685" y="65" width="2" height="1" fill="#000"/><rect x="1685" y="98" width="2" height="1" fill="#000"/><rect x="1685" y="164" width="2" height="1" fill="#000"/><rect x="1685" y="197" width="2" height="1" fill="#000"/><rect x="1685" y="230" width="2" height="1" fill="#000"/><rect x="1685" y="263" width="2" height="1" fill="#000"/><rect x="1685" y="296" width="2" height="1" fill="#000"/><rect x="1685" y="329" width="2" height="1" fill="#000"/><rect x="1685" y="362" width="2" height="1" fill="#000"/><rect x="1685" y="395" width="2" height="1" fill="#000"/><rect x="1685" y="428" width="2" height="1" fill="#000"/><rect x="1685" y="461" width="2" height="1" fill="#000"/><rect x="1685" y="494" width="2" height="1" fill="#000"/><rect x="1685" y="527" width="2" height="1" fill="#000"/><rect x="1685" y="560" width="2" height="1" fill="#000"/><rect x="1685" y="593" width="2" height="1" fill="#000"/><rect x="1685" y="131" width="2" height="1" fill="#000"/></g>
<text class="t" x="1690.5" y="69.0" textLength="31.5" lengthAdjust="spacingAndGlyphs">1964.40</text>
<text class="t" x="1690.5" y="102.0" textLength="31.5" lengthAdjust="spacingAndGlyphs">1957.00</text>
<text class="t" x="1690.5" y="168.0" textLength="31.5" lengthAdjust="spacingAndGlyphs">1942.40</text>
<text class="t" x="1690.5" y="201.0" textLength="31.5" lengthAdjust="spacingAndGlyphs">1935.20</text>
<text class="t" x="1690.5" y="234.0" textLength="31.5" lengthAdjust="spacingAndGlyphs">1928.00</text>
<text class="t" x="1690.5" y="267.0" textLength="31.5" lengthAdjust="spacingAndGlyphs">1920.60</text>
<text class="t" x="1690.5" y="300.0" textLength="31.5" lengthAdjust="spacingAndGlyphs">1913.40</text>
<text class="t" x="1690.5" y="333.0" textLength="31.5" lengthAdjust="spacingAndGlyphs">1906.00</text>
<text class="t" x="1690.5" y="366.0" textLength="31.5" lengthAdjust="spacingAndGlyphs">1898.80</text>
<text class="t" x="1690.5" y="399.0" textLength="31.5" lengthAdjust="spacingAndGlyphs">1891.40</text>
<text class="t" x="1690.5" y="432.0" textLength="31.5" lengthAdjust="spacingAndGlyphs">1884.20</text>
<text class="t" x="1690.5" y="465.0" textLength="31.5" lengthAdjust="spacingAndGlyphs">1876.80</text>
<text class="t" x="1690.5" y="498.0" textLength="31.5" lengthAdjust="spacingAndGlyphs">1869.60</text>
<text class="t" x="1690.5" y="531.0" textLength="31.5" lengthAdjust="spacingAndGlyphs">1862.40</text>
<text class="t" x="1690.5" y="564.0" textLength="31.5" lengthAdjust="spacingAndGlyphs">1855.00</text>
<text class="t" x="1690.5" y="597.0" textLength="31.5" lengthAdjust="spacingAndGlyphs">1847.80</text>
<rect x="1686" y="124" width="38" height="11" fill="#ff0000" shape-rendering="crispEdges"/>
<text class="t" x="1690.5" y="133.0" textLength="31.5" lengthAdjust="spacingAndGlyphs" style="fill:#fff">1950.00</text>
<rect x="1686" y="305" width="38" height="11" fill="#ff0000" shape-rendering="crispEdges"/>
<text class="t" x="1690.5" y="314.0" textLength="31.5" lengthAdjust="spacingAndGlyphs" style="fill:#fff">1910.00</text>
<rect x="1686" y="480" width="38" height="11" fill="#000000" shape-rendering="crispEdges"/>
<text class="t" x="1690.5" y="489.0" textLength="31.5" lengthAdjust="spacingAndGlyphs" style="fill:#fff">1871.67</text>
<rect x="1686" y="509" width="38" height="11" fill="#32cd32" shape-rendering="crispEdges"/>
<text class="t" x="1690.5" y="518.0" textLength="31.5" lengthAdjust="spacingAndGlyphs" style="fill:#fff">1865.00</text>
<path d="M7 40 L14 40 L10.5 44 Z" fill="#000"/>
<text class="t" x="19" y="45" textLength="56.7" lengthAdjust="spacingAndGlyphs">XAUUSD-,H4</text>
<text class="t" x="82.7" y="45" textLength="140" lengthAdjust="spacingAndGlyphs">1870.34 1871.75 1868.54 1871.67</text>
<g shape-rendering="crispEdges"><rect x="4" y="686" width="1" height="8" fill="#c0c0c0"/><rect x="12" y="686" width="1" height="8" fill="#c0c0c0"/><rect x="20" y="686" width="1" height="8" fill="#c0c0c0"/><rect x="28" y="686" width="1" height="10" fill="#c0c0c0"/><rect x="36" y="686" width="1" height="11" fill="#c0c0c0"/><rect x="44" y="686" width="1" height="12" fill="#c0c0c0"/><rect x="52" y="686" width="1" height="11" fill="#c0c0c0"/><rect x="60" y="686" width="1" height="14" fill="#c0c0c0"/><rect x="68" y="686" width="1" height="12" fill="#c0c0c0"/><rect x="76" y="686" width="1" height="9" fill="#c0c0c0"/><rect x="84" y="686" width="1" height="6" fill="#c0c0c0"/><rect x="92" y="686" width="1" height="4" fill="#c0c0c0"/><rect x="100" y="686" width="1" height="2" fill="#c0c0c0"/><rect x="108" y="686" width="1" height="1" fill="#c0c0c0"/><rect x="116" y="686" width="1" height="1" fill="#c0c0c0"/><rect x="124" y="686" width="1" height="1" fill="#c0c0c0"/><rect x="132" y="686" width="1" height="2" fill="#c0c0c0"/><rect x="140" y="686" width="1" height="3" fill="#c0c0c0"/><rect x="148" y="686" width="1" height="1" fill="#c0c0c0"/><rect x="156" y="684" width="1" height="3" fill="#c0c0c0"/><rect x="164" y="683" width="1" height="4" fill="#c0c0c0"/><rect x="172" y="686" width="1" height="1" fill="#c0c0c0"/><rect x="180" y="686" width="1" height="1" fill="#c0c0c0"/><rect x="188" y="686" width="1" height="1" fill="#c0c0c0"/><rect x="196" y="686" width="1" height="2" fill="#c0c0c0"/><rect x="204" y="686" width="1" height="1" fill="#c0c0c0"/><rect x="212" y="686" width="1" height="1" fill="#c0c0c0"/><rect x="220" y="685" width="1" height="2" fill="#c0c0c0"/><rect x="228" y="682" width="1" height="5" fill="#c0c0c0"/><rect x="236" y="678" width="1" height="9" fill="#c0c0c0"/><rect x="244" y="674" width="1" height="13" fill="#c0c0c0"/><rect x="252" y="673" width="1" height="14" fill="#c0c0c0"/><rect x="260" y="668" width="1" height="19" fill="#c0c0c0"/><rect x="268" y="665" width="1" height="22" fill="#c0c0c0"/><rect x="276" y="665" width="1" height="22" fill="#c0c0c0"/><rect x="284" y="667" width="1" height="20" fill="#c0c0c0"/><rect x="292" y="667" width="1" height="20" fill="#c0c0c0"/><rect x="300" y="670" width="1" height="17" fill="#c0c0c0"/><rect x="308" y="677" width="1" height="10" fill="#c0c0c0"/><rect x="316" y="680" width="1" height="7" fill="#c0c0c0"/><rect x="324" y="684" width="1" height="3" fill="#c0c0c0"/><rect x="332" y="686" width="1" height="1" fill="#c0c0c0"/><rect x="340" y="686" width="1" height="1" fill="#c0c0c0"/><rect x="348" y="686" width="1" height="1" fill="#c0c0c0"/><rect x="356" y="686" width="1" height="4" fill="#c0c0c0"/><rect x="364" y="686" width="1" height="6" fill="#c0c0c0"/><rect x="372" y="686" width="1" height="8" fill="#c0c0c0"/><rect x="380" y="686" width="1" height="11" fill="#c0c0c0"/><rect x="388" y="686" width="1" height="12" fill="#c0c0c0"/><rect x="396" y="686" width="1" height="11" fill="#c0c0c0"/><rect x="404" y="686" width="1" height="10" fill="#c0c0c0"/><rect x="412" y="686" width="1" height="9" fill="#c0c0c0"/><rect x="420" y="686" width="1" height="9" fill="#c0c0c0"/><rect x="428" y="686" width="1" height="8" fill="#c0c0c0"/><rect x="436" y="686" width="1" height="7" fill="#c0c0c0"/><rect x="444" y="686" width="1" height="7" fill="#c0c0c0"/><rect x="452" y="686" width="1" height="5" fill="#c0c0c0"/><rect x="460" y="686" width="1" height="3" fill="#c0c0c0"/><rect x="468" y="686" width="1" height="3" fill="#c0c0c0"/><rect x="476" y="686" width="1" height="2" fill="#c0c0c0"/><rect x="484" y="686" width="1" height="2" fill="#c0c0c0"/><rect x="492" y="686" width="1" height="6" fill="#c0c0c0"/><rect x="500" y="686" width="1" height="14" fill="#c0c0c0"/><rect x="508" y="686" width="1" height="22" fill="#c0c0c0"/><rect x="516" y="686" width="1" height="27" fill="#c0c0c0"/><rect x="524" y="686" width="1" height="30" fill="#c0c0c0"/><rect x="532" y="686" width="1" height="31" fill="#c0c0c0"/><rect x="540" y="686" width="1" height="36" fill="#c0c0c0"/><rect x="548" y="686" width="1" height="41" fill="#c0c0c0"/><rect x="556" y="686" width="1" height="44" fill="#c0c0c0"/><rect x="564" y="686" width="1" height="46" fill="#c0c0c0"/><rect x="572" y="686" width="1" height="44" fill="#c0c0c0"/><rect x="580" y="686" width="1" height="44" fill="#c0c0c0"/><rect x="588" y="686" width="1" height="39" fill="#c0c0c0"/><rect x="596" y="686" width="1" height="36" fill="#c0c0c0"/><rect x="604" y="686" width="1" height="33" fill="#c0c0c0"/><rect x="612" y="686" width="1" height="31" fill="#c0c0c0"/><rect x="620" y="686" width="1" height="27" fill="#c0c0c0"/><rect x="628" y="686" width="1" height="23" fill="#c0c0c0"/><rect x="636" y="686" width="1" height="18" fill="#c0c0c0"/><rect x="644" y="686" width="1" height="13" fill="#c0c0c0"/><rect x="652" y="686" width="1" height="8" fill="#c0c0c0"/><rect x="660" y="686" width="1" height="3" fill="#c0c0c0"/><rect x="668" y="686" width="1" height="1" fill="#c0c0c0"/><rect x="676" y="686" width="1" height="1" fill="#c0c0c0"/><rect x="684" y="682" width="1" height="5" fill="#c0c0c0"/><rect x="692" y="675" width="1" height="12" fill="#c0c0c0"/><rect x="700" y="671" width="1" height="16" fill="#c0c0c0"/><rect x="708" y="664" width="1" height="23" fill="#c0c0c0"/><rect x="716" y="666" width="1" height="21" fill="#c0c0c0"/><rect x="724" y="670" width="1" height="17" fill="#c0c0c0"/><rect x="732" y="669" width="1" height="18" fill="#c0c0c0"/><rect x="740" y="668" width="1" height="19" fill="#c0c0c0"/><rect x="748" y="669" width="1" height="18" fill="#c0c0c0"/><rect x="756" y="668" width="1" height="19" fill="#c0c0c0"/><rect x="764" y="666" width="1" height="21" fill="#c0c0c0"/><rect x="772" y="664" width="1" height="23" fill="#c0c0c0"/><rect x="780" y="659" width="1" height="28" fill="#c0c0c0"/><rect x="788" y="646" width="1" height="41" fill="#c0c0c0"/><rect x="796" y="634" width="1" height="53" fill="#c0c0c0"/><rect x="804" y="627" width="1" height="60" fill="#c0c0c0"/><rect x="812" y="625" width="1" height="62" fill="#c0c0c0"/><rect x="820" y="620" width="1" height="67" fill="#c0c0c0"/><rect x="828" y="615" width="1" height="72" fill="#c0c0c0"/><rect x="836" y="614" width="1" height="73" fill="#c0c0c0"/><rect x="844" y="612" width="1" height="75" fill="#c0c0c0"/><rect x="852" y="610" width="1" height="77" fill="#c0c0c0"/><rect x="860" y="608" width="1" height="79" fill="#c0c0c0"/><rect x="868" y="608" width="1" height="79" fill="#c0c0c0"/><rect x="876" y="617" width="1" height="70" fill="#c0c0c0"/><rect x="884" y="654" width="1" height="33" fill="#c0c0c0"/><rect x="892" y="681" width="1" height="6" fill="#c0c0c0"/><rect x="900" y="686" width="1" height="14" fill="#c0c0c0"/><rect x="908" y="686" width="1" height="26" fill="#c0c0c0"/><rect x="916" y="686" width="1" height="33" fill="#c0c0c0"/><rect x="924" y="686" width="1" height="40" fill="#c0c0c0"/><rect x="932" y="686" width="1" height="45" fill="#c0c0c0"/><rect x="940" y="686" width="1" height="49" fill="#c0c0c0"/><rect x="948" y="686" width="1" height="53" fill="#c0c0c0"/><rect x="956" y="686" width="1" height="53" fill="#c0c0c0"/><rect x="964" y="686" width="1" height="54" fill="#c0c0c0"/><rect x="972" y="686" width="1" height="55" fill="#c0c0c0"/><rect x="980" y="686" width="1" height="60" fill="#c0c0c0"/><rect x="988" y="686" width="1" height="63" fill="#c0c0c0"/><rect x="996" y="686" width="1" height="63" fill="#c0c0c0"/><rect x="1004" y="686" width="1" height="60" fill="#c0c0c0"/><rect x="1012" y="686" width="1" height="60" fill="#c0c0c0"/><rect x="1020" y="686" width="1" height="57" fill="#c0c0c0"/><rect x="1028" y="686" width="1" height="51" fill="#c0c0c0"/><rect x="1036" y="686" width="1" height="47" fill="#c0c0c0"/><rect x="1044" y="686" width="1" height="43" fill="#c0c0c0"/><rect x="1052" y="686" width="1" height="40" fill="#c0c0c0"/><rect x="1060" y="686" width="1" height="35" fill="#c0c0c0"/><rect x="1068" y="686" width="1" height="32" fill="#c0c0c0"/><rect x="1076" y="686" width="1" height="23" fill="#c0c0c0"/><rect x="1084" y="686" width="1" height="19" fill="#c0c0c0"/><rect x="1092" y="686" width="1" height="14" fill="#c0c0c0"/><rect x="1100" y="686" width="1" height="7" fill="#c0c0c0"/><rect x="1108" y="686" width="1" height="4" fill="#c0c0c0"/><rect x="1116" y="686" width="1" height="9" fill="#c0c0c0"/><rect x="1124" y="686" width="1" height="6" fill="#c0c0c0"/><rect x="1132" y="686" width="1" height="4" fill="#c0c0c0"/><rect x="1140" y="686" width="1" height="2" fill="#c0c0c0"/><rect x="1148" y="686" width="1" height="1" fill="#c0c0c0"/><rect x="1156" y="686" width="1" height="1" fill="#c0c0c0"/><rect x="1164" y="685" width="1" height="2" fill="#c0c0c0"/><rect x="1172" y="684" width="1" height="3" fill="#c0c0c0"/><rect x="1180" y="685" width="1" height="2" fill="#c0c0c0"/><rect x="1188" y="686" width="1" height="1" fill="#c0c0c0"/><rect x="1196" y="686" width="1" height="1" fill="#c0c0c0"/><rect x="1204" y="686" width="1" height="2" fill="#c0c0c0"/><rect x="1212" y="686" width="1" height="8" fill="#c0c0c0"/><rect x="1220" y="686" width="1" height="7" fill="#c0c0c0"/><rect x="1228" y="686" width="1" height="10" fill="#c0c0c0"/><rect x="1236" y="686" width="1" height="12" fill="#c0c0c0"/><rect x="1244" y="686" width="1" height="16" fill="#c0c0c0"/><rect x="1252" y="686" width="1" height="21" fill="#c0c0c0"/><rect x="1260" y="686" width="1" height="24" fill="#c0c0c0"/><rect x="1268" y="686" width="1" height="27" fill="#c0c0c0"/><rect x="1276" y="686" width="1" height="28" fill="#c0c0c0"/><rect x="1284" y="686" width="1" height="29" fill="#c0c0c0"/><rect x="1292" y="686" width="1" height="28" fill="#c0c0c0"/><rect x="1300" y="686" width="1" height="27" fill="#c0c0c0"/><rect x="1308" y="686" width="1" height="25" fill="#c0c0c0"/><rect x="1316" y="686" width="1" height="21" fill="#c0c0c0"/><rect x="1324" y="686" width="1" height="18" fill="#c0c0c0"/><rect x="1332" y="686" width="1" height="16" fill="#c0c0c0"/></g>
<polyline points="4.0,669.6 12.5,674.2 20.5,679.4 28.5,684.7 36.5,688.7 44.5,691.6 52.5,694.0 60.5,696.3 68.5,697.4 76.5,697.4 84.5,696.6 92.5,696.5 100.5,695.5 108.5,694.5 116.5,692.8 124.5,691.3 132.5,690.5 140.5,689.7 148.5,688.1 156.5,687.3 164.5,686.4 190.5,686.4 210.5,685.5 230.5,685.2 240.5,684.1 250.5,681.5 260.5,678.9 270.5,677.1 280.5,673.6 290.5,670.7 300.5,669.6 310.5,669.4 320.5,669.7 330.5,671.3 340.5,674.8 350.5,677.7 360.5,681.2 370.5,684.7 380.5,687.6 390.5,690.4 400.5,691.8 410.5,693.5 420.5,695.2 430.5,695.5 440.5,696.4 450.5,695.5 460.5,694.4 470.5,693.5 480.5,692.3 485.5,691.4 490.5,691.4 497.5,692.3 505.5,693.2 513.5,694.7 520.5,697.0 528.5,699.5 535.5,701.6 545.5,707.4 555.5,714.4 565.5,717.6 575.5,723.1 580.5,724.4 590.5,725.5 595.5,726.4 610.5,726.4 617.5,725.3 625.5,723.3 635.5,719.8 645.5,717.1 655.5,712.5 665.5,706.1 675.5,702.1 685.5,696.6 695.5,689.9 705.5,685.2 715.5,680.4 725.5,676.2 735.5,672.5 745.5,670.2 755.5,669.0 765.5,667.6 775.5,666.5 780.5,666.4 786.5,664.4 795.5,658.9 805.5,655.6 812.5,648.9 820.5,644.4 828.5,638.9 835.5,633.3 843.5,627.8 850.5,622.2 858.5,618.3 866.5,615.6 874.5,613.6 880.5,614.4 886.5,618.9 894.5,625.0 900.5,633.3 906.5,642.2 912.5,650.0 918.5,660.0 922.5,665.8 927.5,671.6 930.5,678.0 934.5,685.0 940.5,696.0 945.5,706.4 950.5,713.4 956.5,720.3 963.5,726.1 970.5,729.6 978.5,733.7 985.5,737.1 993.5,740.0 1000.5,742.4 1008.5,743.8 1016.5,744.5 1024.5,744.5 1032.5,743.8 1040.5,742.6 1048.5,741.2 1056.5,739.5 1064.5,735.6 1072.5,732.2 1080.5,726.7 1090.5,722.6 1100.5,715.7 1108.5,711.0 1115.5,708.5 1125.5,703.5 1135.5,698.9 1145.5,695.4 1155.5,691.9 1165.5,689.6 1175.5,688.4 1185.5,687.3 1195.5,686.5 1205.5,686.5 1210.5,687.6 1220.5,687.6 1230.5,689.6 1240.5,691.3 1243.5,692.4 1250.5,694.5 1256.5,696.4 1262.5,698.4 1268.5,700.4 1275.5,702.7 1281.5,704.4 1287.5,706.2 1293.5,708.4 1300.5,709.8 1306.5,710.8 1311.5,711.6 1317.5,712.4 1323.5,711.4 1329.5,710.5 1332.5,710.2" fill="none" stroke="#ff0000" stroke-width="1" stroke-dasharray="3 3" shape-rendering="crispEdges"/>
<g shape-rendering="crispEdges"><rect x="1685" y="600" width="1" height="1" fill="#000"/><rect x="1685" y="686" width="1" height="1" fill="#000"/><rect x="1685" y="756" width="1" height="1" fill="#000"/></g>
<text class="t" x="1688.7" y="609" textLength="27" lengthAdjust="spacingAndGlyphs">17.967</text>
<text class="t" x="1688.4" y="689.6" textLength="17.4" lengthAdjust="spacingAndGlyphs">0.00</text>
<text class="t" x="1688.4" y="753.6" textLength="30.3" lengthAdjust="spacingAndGlyphs">-14.796</text>
<text class="t" x="8.4" y="610.8" textLength="123.4" lengthAdjust="spacingAndGlyphs">MACD(12,26,9) -3.396 -5.185</text>
<g shape-rendering="crispEdges">
<line x1="4" y1="795.5" x2="1684" y2="795.5" stroke="#c0c0c0" stroke-width="1" stroke-dasharray="3 3" stroke-dashoffset="-1"/>
<line x1="4" y1="840.5" x2="1684" y2="840.5" stroke="#c0c0c0" stroke-width="1" stroke-dasharray="3 3" stroke-dashoffset="-1"/>
<rect x="1685" y="761" width="1" height="1" fill="#000"/><rect x="1685" y="874" width="1" height="1" fill="#000"/>
</g>
<polyline points="4.0,828.7 12.5,823.7 20.5,820.3 28.5,823.3 36.5,824.4 44.5,825.3 52.5,820.3 60.5,829.3 68.5,817.6 76.5,815.3 84.5,815.3 92.5,816.3 100.5,812.3 108.5,812.3 116.5,821.3 124.5,819.3 132.5,821.3 140.5,821.3 148.5,812.3 156.5,809.3 164.5,814.0 172.5,822.4 180.5,819.3 188.5,821.3 196.5,822.4 204.5,816.7 212.5,811.6 220.5,812.3 228.5,811.2 236.5,804.7 244.5,802.4 252.5,808.0 260.5,800.7 268.5,801.3 276.5,806.0 284.5,815.3 292.5,810.7 300.5,815.0 308.5,827.0 316.5,823.3 324.5,823.3 332.5,821.3 340.5,819.3 348.5,817.3 356.5,828.3 364.5,823.3 372.5,827.3 380.5,827.3 388.5,825.3 396.5,821.3 404.5,820.3 412.5,822.4 420.5,822.4 428.5,816.3 436.5,820.3 444.5,821.4 452.5,814.4 460.5,815.3 468.5,818.7 476.5,816.3 484.5,817.6 492.5,832.7 500.5,840.0 508.5,843.7 516.5,839.7 524.5,836.3 532.5,836.7 540.5,842.4 548.5,845.3 556.5,843.3 564.5,843.3 572.5,832.3 580.5,835.7 588.5,826.7 596.5,825.3 604.5,824.3 612.5,827.3 620.5,821.6 628.5,818.4 636.5,814.4 644.5,812.0 652.5,808.3 660.5,808.2 668.5,810.2 676.5,814.3 684.5,806.0 692.5,798.3 700.5,799.4 708.5,794.3 716.5,814.3 724.5,819.3 732.5,811.3 740.5,810.3 748.5,813.7 756.5,809.7 764.5,807.3 772.5,805.4 780.5,799.7 788.5,788.3 796.5,787.3 804.5,790.3 812.5,798.3 820.5,794.3 828.5,791.3 836.5,798.3 844.5,796.3 852.5,794.7 860.5,793.4 868.5,797.0 876.5,813.7 884.5,841.3 892.5,838.3 900.5,836.0 908.5,831.3 916.5,829.6 924.5,831.3 932.5,829.6 940.5,831.3 948.5,831.3 956.5,828.7 964.5,830.4 972.5,830.4 980.5,836.3 988.5,835.3 996.5,834.0 1004.5,830.4 1012.5,831.3 1020.5,829.6 1028.5,823.7 1036.5,824.7 1044.5,825.6 1052.5,824.4 1060.5,822.4 1068.5,822.4 1076.5,811.7 1084.5,816.3 1092.5,814.0 1100.5,809.3 1108.5,813.3 1116.5,828.7 1124.5,815.1 1132.5,817.3 1140.5,815.5 1148.5,815.5 1156.5,817.3 1164.5,816.5 1172.5,816.5 1180.5,817.3 1188.5,820.4 1196.5,824.3 1204.5,820.4 1212.5,828.5 1220.5,819.7 1228.5,824.3 1236.5,826.2 1244.5,828.5 1252.5,831.5 1260.5,832.5 1268.5,833.3 1276.5,828.5 1284.5,829.4 1292.5,827.4 1300.5,826.7 1308.5,826.7 1316.5,817.6 1324.5,818.3 1332.5,820.4" fill="none" stroke="#1e90ff" stroke-width="1" shape-rendering="crispEdges"/>
<text class="t" x="1688.7" y="769.6" textLength="14.1" lengthAdjust="spacingAndGlyphs">100</text>
<text class="t" x="1688.7" y="799" textLength="9.4" lengthAdjust="spacingAndGlyphs">70</text>
<text class="t" x="1688.7" y="844" textLength="9.4" lengthAdjust="spacingAndGlyphs">30</text>
<text class="t" x="1688.7" y="872" textLength="4.7" lengthAdjust="spacingAndGlyphs">0</text>
<text class="t" x="8.4" y="771.8" textLength="67.5" lengthAdjust="spacingAndGlyphs">RSI(14) 48.1410</text>
<g shape-rendering="crispEdges"><rect x="4" y="876" width="1" height="3" fill="#000"/><rect x="68" y="876" width="1" height="3" fill="#000"/><rect x="132" y="876" width="1" height="3" fill="#000"/><rect x="196" y="876" width="1" height="3" fill="#000"/><rect x="260" y="876" width="1" height="3" fill="#000"/><rect x="324" y="876" width="1" height="3" fill="#000"/><rect x="388" y="876" width="1" height="3" fill="#000"/><rect x="452" y="876" width="1" height="3" fill="#000"/><rect x="516" y="876" width="1" height="3" fill="#000"/><rect x="580" y="876" width="1" height="3" fill="#000"/><rect x="644" y="876" width="1" height="3" fill="#000"/><rect x="708" y="876" width="1" height="3" fill="#000"/><rect x="772" y="876" width="1" height="3" fill="#000"/><rect x="836" y="876" width="1" height="3" fill="#000"/><rect x="900" y="876" width="1" height="3" fill="#000"/><rect x="964" y="876" width="1" height="3" fill="#000"/><rect x="1028" y="876" width="1" height="3" fill="#000"/><rect x="1092" y="876" width="1" height="3" fill="#000"/><rect x="1156" y="876" width="1" height="3" fill="#000"/><rect x="1220" y="876" width="1" height="3" fill="#000"/><rect x="1284" y="876" width="1" height="3" fill="#000"/></g>
<text class="t" x="3.5" y="888" textLength="50.5" lengthAdjust="spacingAndGlyphs">14 Oct 2020</text>
<text class="t" x="67.5" y="888" textLength="53.5" lengthAdjust="spacingAndGlyphs">15 Oct 12:00</text>
<text class="t" x="131.5" y="888" textLength="53.5" lengthAdjust="spacingAndGlyphs">18 Oct 23:00</text>
<text class="t" x="195.5" y="888" textLength="53.5" lengthAdjust="spacingAndGlyphs">20 Oct 04:00</text>
<text class="t" x="259.5" y="888" textLength="53.5" lengthAdjust="spacingAndGlyphs">21 Oct 12:00</text>
<text class="t" x="323.5" y="888" textLength="53.5" lengthAdjust="spacingAndGlyphs">22 Oct 20:00</text>
<text class="t" x="387.5" y="888" textLength="53.5" lengthAdjust="spacingAndGlyphs">26 Oct 04:00</text>
<text class="t" x="451.5" y="888" textLength="53.5" lengthAdjust="spacingAndGlyphs">27 Oct 12:00</text>
<text class="t" x="515.5" y="888" textLength="53.5" lengthAdjust="spacingAndGlyphs">28 Oct 20:00</text>
<text class="t" x="579.5" y="888" textLength="53.5" lengthAdjust="spacingAndGlyphs">30 Oct 04:00</text>
<text class="t" x="643.5" y="888" textLength="51.6" lengthAdjust="spacingAndGlyphs">2 Nov 12:00</text>
<text class="t" x="707.5" y="888" textLength="51.6" lengthAdjust="spacingAndGlyphs">3 Nov 20:00</text>
<text class="t" x="771.5" y="888" textLength="51.6" lengthAdjust="spacingAndGlyphs">5 Nov 04:00</text>
<text class="t" x="835.5" y="888" textLength="51.6" lengthAdjust="spacingAndGlyphs">6 Nov 12:00</text>
<text class="t" x="899.5" y="888" textLength="51.6" lengthAdjust="spacingAndGlyphs">9 Nov 20:00</text>
<text class="t" x="963.5" y="888" textLength="56.2" lengthAdjust="spacingAndGlyphs">11 Nov 04:00</text>
<text class="t" x="1027.5" y="888" textLength="56.2" lengthAdjust="spacingAndGlyphs">12 Nov 12:00</text>
<text class="t" x="1091.5" y="888" textLength="56.2" lengthAdjust="spacingAndGlyphs">15 Nov 23:00</text>
<text class="t" x="1155.5" y="888" textLength="56.2" lengthAdjust="spacingAndGlyphs">17 Nov 04:00</text>
<text class="t" x="1219.5" y="888" textLength="56.2" lengthAdjust="spacingAndGlyphs">18 Nov 12:00</text>
<text class="t" x="1283.5" y="888" textLength="56.2" lengthAdjust="spacingAndGlyphs">19 Nov 20:00</text>
</svg>
<div class="cn">多空转折点<span class="d">1865</span></div>
</body></html>
